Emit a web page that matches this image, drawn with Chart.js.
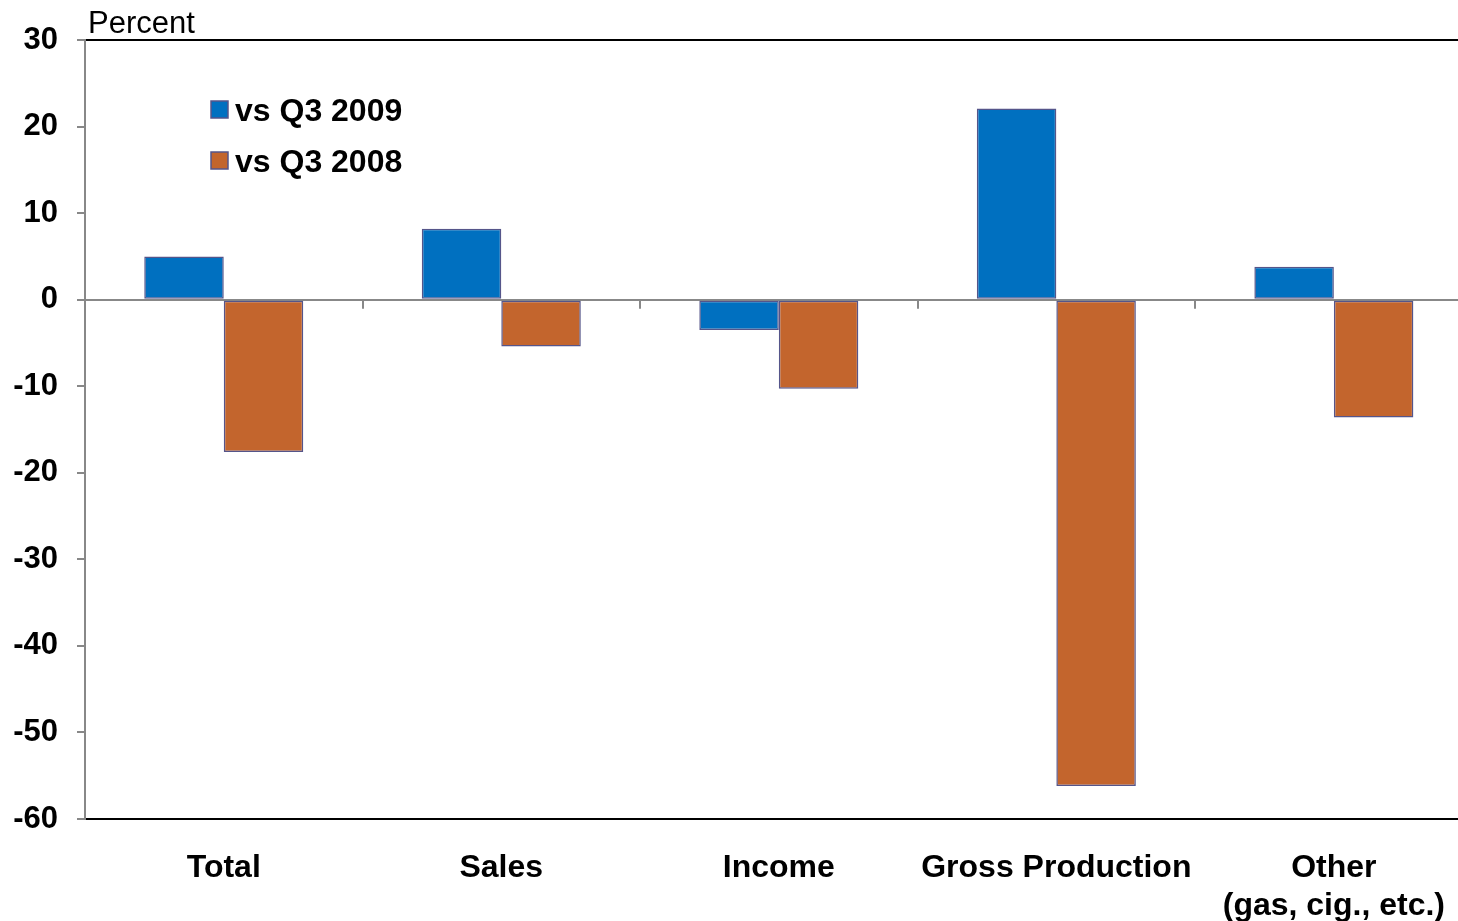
<!DOCTYPE html>
<html>
<head>
<meta charset="utf-8">
<script src="https://cdn.jsdelivr.net/npm/chart.js@4/dist/chart.umd.min.js"></script>
<style>
  html, body { margin: 0; padding: 0; background: #fff; overflow: hidden; }
  /* the plot runs a little past the right edge of the picture, as in the original */
  #wrap { width: 1475px; height: 921px; position: relative; }
</style>
</head>
<body>
<div id="wrap"><canvas id="chart"></canvas></div>
<script>
// Values (percent change)
const categories = ["Total", "Sales", "Income", "Gross Production", ["Other", "(gas, cig., etc.)"]];
const vsQ3_2009 = [5.0, 8.2, -3.5, 22.1, 3.8];
const vsQ3_2008 = [-17.6, -5.4, -10.3, -56.2, -13.6];
const seriesNames = ["vs Q3 2009", "vs Q3 2008"];
const yTicks = [30, 20, 10, 0, -10, -20, -30, -40, -50, -60];

const FONT = "'Liberation Sans', Arial, sans-serif";

// legend, "Percent" label and category tick marks on the zero line
const extras = {
    id: "extras",
    afterDraw(chart) {
        const ctx = chart.ctx;
        const x = chart.scales.x;
        const y = chart.scales.y;
        const zero = y.getPixelForValue(0);

        ctx.save();
        ctx.strokeStyle = "#888";
        ctx.lineWidth = 2;
        for (let i = 0; i < categories.length - 1; i++) {
            const px = Math.round((x.getPixelForValue(i) + x.getPixelForValue(i + 1)) / 2);
            ctx.beginPath();
            ctx.moveTo(px, zero);
            ctx.lineTo(px, zero + 9);
            ctx.stroke();
        }

        ctx.fillStyle = "#000";
        ctx.font = "31px " + FONT;
        ctx.textBaseline = "alphabetic";
        ctx.textAlign = "left";
        ctx.fillText("Percent", 88, 33);

        chart.data.datasets.forEach((ds, i) => {
            const top = 101 + i * 51;
            ctx.fillStyle = ds.backgroundColor;
            ctx.fillRect(211, top, 17, 17);
            ctx.strokeStyle = ds.borderColor;
            ctx.lineWidth = 1.5;
            ctx.strokeRect(211, top, 17, 17);
            ctx.fillStyle = "#000";
            ctx.font = "bold 32px " + FONT;
            ctx.fillText(ds.label, 235, top + 20);
        });
        ctx.restore();
    }
};

new Chart(document.getElementById("chart"), {
    type: "bar",
    data: {
        labels: categories,
        datasets: [
            {
                label: seriesNames[0],
                data: vsQ3_2009,
                backgroundColor: "#0070C0",
                borderColor: "#55558a",
                borderWidth: 1.5,
                borderSkipped: false
            },
            {
                label: seriesNames[1],
                data: vsQ3_2008,
                backgroundColor: "#C3652D",
                borderColor: "#55558a",
                borderWidth: 1.5,
                borderSkipped: false
            }
        ]
    },
    options: {
        responsive: true,
        maintainAspectRatio: false,
        animation: false,
        datasets: { bar: { categoryPercentage: 0.573, barPercentage: 1.0 } },
        layout: { padding: { top: 40, right: 0, left: 0, bottom: 0 } },
        plugins: {
            legend: { display: false },
            tooltip: { enabled: false }
        },
        scales: {
            x: {
                grid: { display: false, drawTicks: false },
                border: { display: false },
                ticks: {
                    color: "#000",
                    font: { family: FONT, size: 32, weight: "bold", lineHeight: 1.19 },
                    padding: 30,
                    maxRotation: 0,
                    autoSkip: false
                },
                afterFit(scale) { scale.height = 102; }
            },
            y: {
                min: -60,
                max: 30,
                afterBuildTicks(scale) { scale.ticks = yTicks.map(v => ({ value: v })); },
                grid: {
                    color: c => (c.tick && c.tick.value === 0) ? "#888"
                        : (c.tick && (c.tick.value === 30 || c.tick.value === -60)) ? "#000" : "rgba(0,0,0,0)",
                    lineWidth: 2,
                    tickColor: "#888",
                    tickLength: 8,
                    drawTicks: true
                },
                border: { display: true, color: "#888", width: 2 },
                ticks: {
                    color: "#000",
                    font: { family: FONT, size: 31, weight: "bold" },
                    padding: 19
                },
                afterFit(scale) { scale.width = 85; }
            }
        }
    },
    plugins: [extras]
});
</script>
</body>
</html>
